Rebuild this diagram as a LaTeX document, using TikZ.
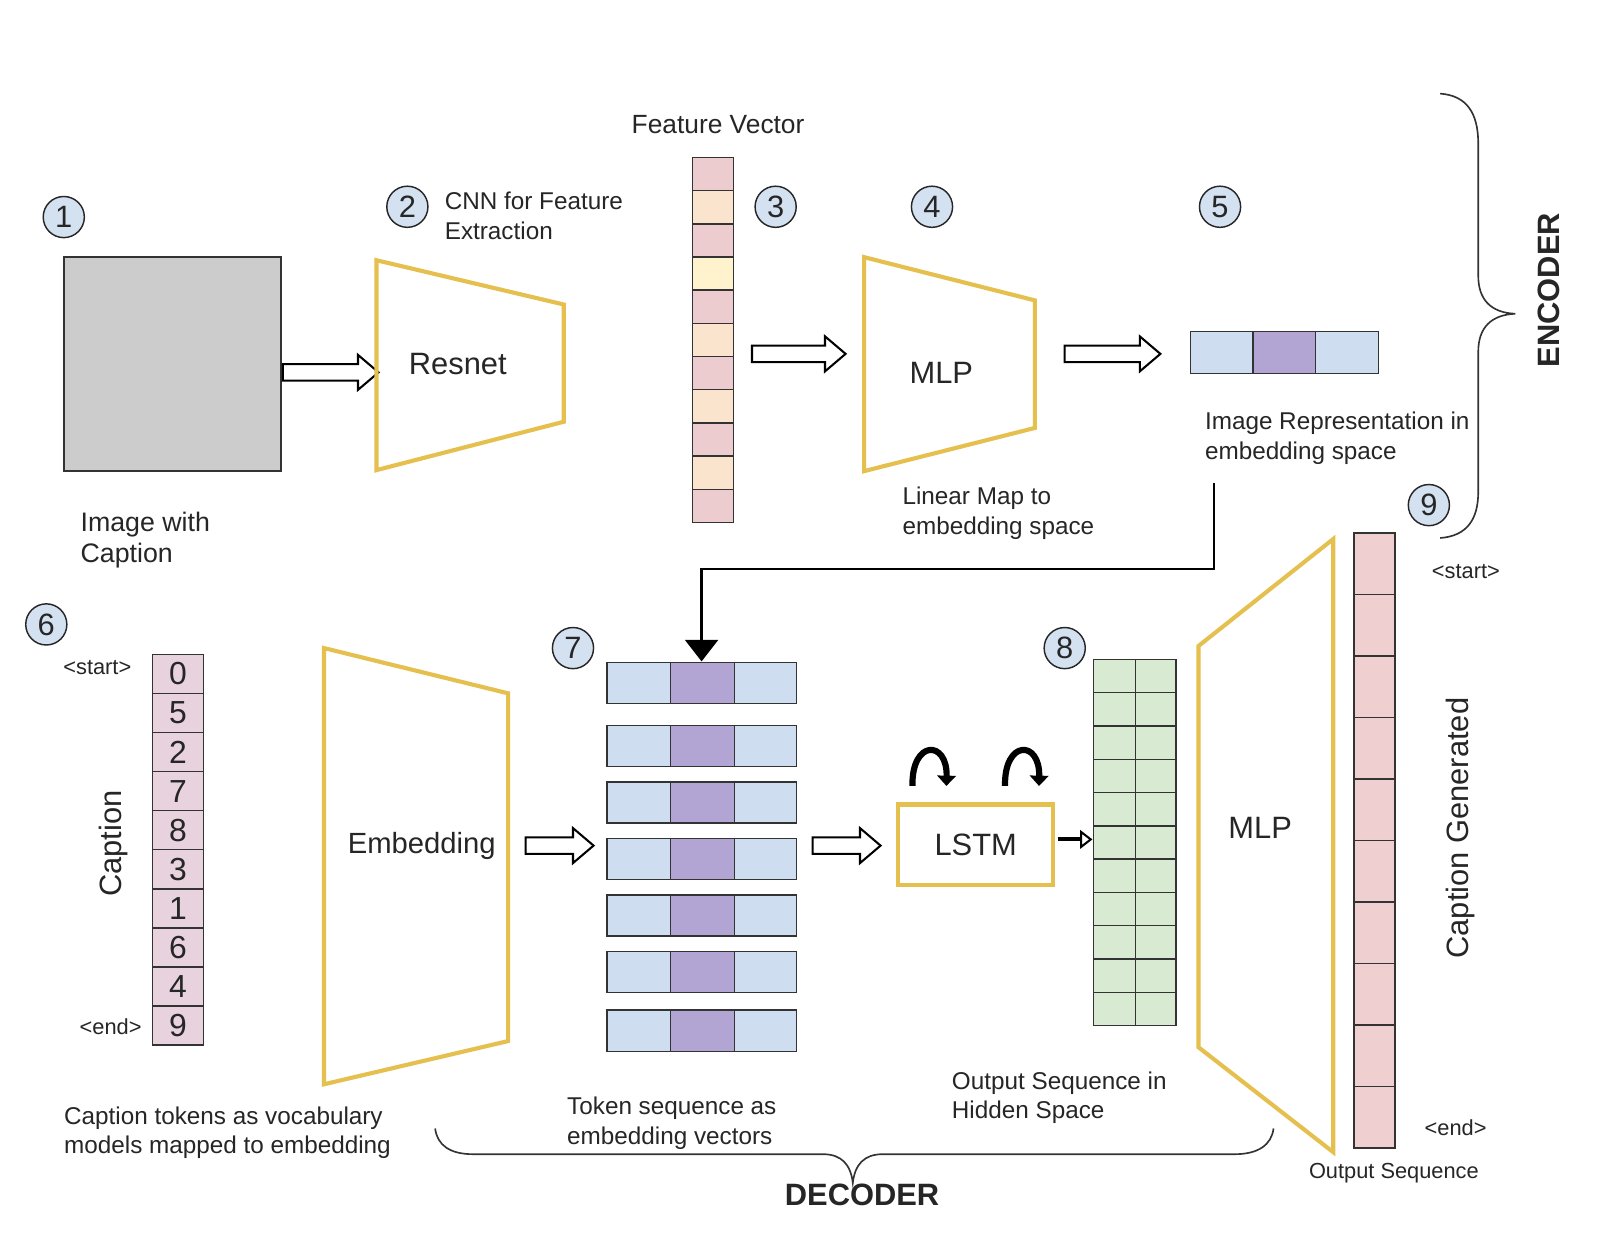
\documentclass[tikz,border=0pt]{standalone}
\usepackage{fontspec}
\setmainfont{Liberation Sans}
\usetikzlibrary{arrows.meta,calc}
\definecolor{gold}{RGB}{230,192,78}
\definecolor{imggray}{RGB}{204,204,204}
\definecolor{circblue}{RGB}{212,225,241}
\definecolor{fpink}{RGB}{236,204,206}
\definecolor{fpeach}{RGB}{250,228,206}
\definecolor{fyel}{RGB}{255,243,206}
\definecolor{cappink}{RGB}{232,210,222}
\definecolor{lblue}{RGB}{207,221,240}
\definecolor{lpurple}{RGB}{178,165,212}
\definecolor{lgreen}{RGB}{217,234,211}
\definecolor{opink}{RGB}{240,207,209}
\newcommand\fsBig{\fontsize{15}{18}\selectfont}
\newcommand\fsEmb{\fontsize{14.2}{17}\selectfont}
\newcommand\fsTitle{\fontsize{12.8}{15}\selectfont}
\newcommand\fsMid{\fontsize{11.8}{14.3}\selectfont}
\newcommand\fsImg{\fontsize{13}{15.5}\selectfont}
\newcommand\fsSmall{\fontsize{10.6}{12.7}\selectfont}
\newcommand\fsBoldLbl{\fontsize{15}{18}\selectfont\bfseries}
\tikzset{
  yel/.style={draw=gold, line width=2pt, line join=miter},
  cell/.style={draw=black!80, line width=0.7pt},
  numc/.style={circle, draw=black!85, fill=circblue, line width=0.7pt, minimum size=20pt, inner sep=0pt, font=\fsBig},
  lbl/.style={font=\fsMid, align=left, anchor=west, inner sep=0pt},
  capcell/.style={cell, fill=cappink, minimum width=25pt, minimum height=19pt, inner sep=0pt, font=\fontsize{15.5}{18}\selectfont},
  outcell/.style={cell, fill=opink, minimum width=20pt, minimum height=29.9pt, inner sep=0pt},
  brace/.style={draw=black!80, line width=0.8pt},
  loopar/.style={line width=3pt, -{Triangle[length=5pt,width=9pt]}},
  pics/blockarrow/.style={code={
    \draw[line width=1pt, fill=white, line join=miter]
      (0,-8) -- ({#1-20},-8) -- ({#1-20},-17) -- (#1,0) -- ({#1-20},17) -- ({#1-20},8) -- (0,8) -- cycle;}}
}
\begin{document}
\begin{tikzpicture}[x=0.5pt,y=-0.5pt, every node/.append style={text=black!85}]
\useasboundingbox (0,0) rectangle (1568,1203);
\fill[white] (0,0) rectangle (1568,1203);

% ---------------- ENCODER ----------------
\node[numc] (n1) at (62,211) {1};
\node[draw=black!80, fill=imggray, line width=0.8pt, minimum width=105.5pt, minimum height=104pt, inner sep=0pt] (img) at (167.5,354) {};
\node[font=\fsImg, align=left, anchor=west, inner sep=0pt] (imglbl) at (78,525) {Image with\\Caption};

\pic at (275,362) {blockarrow=93};

\node[numc] (n2) at (396,201) {2};
\node[lbl] (cnnlbl) at (432,210) {CNN for Feature\\Extraction};
\draw[yel] (366,253) -- (548,296) -- (548,410) -- (366,457) -- cycle;
\node[font=\fsBig] (resnet) at (445,354) {Resnet};

\node[font=\fsTitle] (fvlbl) at (698,121) {Feature Vector};
\foreach \c [count=\i from 0] in {fpink,fpeach,fpink,fyel,fpink,fpeach,fpink,fpeach,fpink,fpeach,fpink}
  \filldraw[cell, fill=\c] (673,{153+\i*32.27}) rectangle (713,{153+(\i+1)*32.27});
\node[numc] (n3) at (754,201) {3};

\pic at (731,344) {blockarrow=91};

\node[numc] (n4) at (906,201) {4};
\draw[yel] (840,250) -- (1006,292) -- (1006,416) -- (840,458) -- cycle;
\node[font=\fsBig] (mlp1) at (915,362) {MLP};
\node[lbl] (linlbl) at (877,499) {Linear Map to\\embedding space};

\pic at (1035,344) {blockarrow=93};

\node[numc] (n5) at (1186,201) {5};
\filldraw[cell, fill=lblue] (1157,322) rectangle (1218,363);
\filldraw[cell, fill=lpurple] (1218,322) rectangle (1279,363);
\filldraw[cell, fill=lblue] (1279,322) rectangle (1340,363);
\node[lbl] (replbl) at (1171,426) {Image Representation in\\embedding space};

% encoder brace
\draw[brace] (1400,91) .. controls (1426,93) and (1437,110) .. (1437,140) -- (1437,268)
  .. controls (1437,292) and (1450,304) .. (1473,305)
  .. controls (1450,306) and (1437,318) .. (1437,342) -- (1437,478)
  .. controls (1437,505) and (1426,521) .. (1400,523);
\node[font=\fsBoldLbl, rotate=90] (enc) at (1506,282) {ENCODER};

% connector from image representation to token sequence
\coordinate (repout) at (1180,470);
\coordinate (bend) at (1180,553);
\coordinate (tokin) at (682,643);
\draw[line width=1.3pt, -{Triangle[length=10.5pt,width=16pt]}] (repout) -- (bend) -| (tokin);

% ---------------- DECODER ----------------
\node[numc] (n6) at (45,607) {6};
\node[font=\fsSmall, anchor=east, inner sep=0pt] (capstart) at (128,649) {<start>};
\node[font=\fsSmall, anchor=east, inner sep=0pt] (capend) at (138,998) {<end>};
\foreach \d [count=\i from 0] in {0,5,2,7,8,3,1,6,4,9}
  \node[capcell] (cap\i) at (173,{655+\i*38}) {\d};
\node[font=\fsBig, rotate=90] (caplbl) at (110,820) {Caption};

\draw[yel] (315,630) -- (494,674) -- (494,1012) -- (315,1054) -- cycle;
\node[font=\fsEmb] (emb) at (410,822) {Embedding};
\node[lbl] (toklbl) at (62,1101) {Caption tokens as vocabulary\\models mapped to embedding};

\pic at (511,822) {blockarrow=66};

\node[numc] (n7) at (557,630) {7};
\foreach \t in {644,705,760,815,870,925,982} {
  \filldraw[cell, fill=lblue] (590,\t) rectangle (652,{\t+40});
  \filldraw[cell, fill=lpurple] (652,\t) rectangle (714,{\t+40});
  \filldraw[cell, fill=lblue] (714,\t) rectangle (774,{\t+40});
}
\node[lbl] (seqlbl) at (551,1092) {Token sequence as\\embedding vectors};

\pic at (790,822) {blockarrow=66};

\node[draw=gold, line width=2pt, minimum width=75.5pt, minimum height=39pt, inner sep=0pt, font=\fsBig] (lstm) at (948.5,821) {\raisebox{-1pt}{LSTM}};
\draw[loopar] (887,764) .. controls (886,719) and (921,719) .. (920,764);
\draw[loopar] (977,764) .. controls (976,719) and (1011,719) .. (1010,764);

\coordinate (gridin) at (1062,816);
\draw[line width=2pt, -{Triangle[open, length=6pt, width=9pt, line width=1pt]}] ($(lstm.east)+(2,-5)$) -- (gridin);

\node[numc] (n8) at (1035,630) {8};
\foreach \i in {0,...,10} {
  \filldraw[cell, fill=lgreen] (1063,{641+\i*32.36}) rectangle (1104,{641+(\i+1)*32.36});
  \filldraw[cell, fill=lgreen] (1104,{641+\i*32.36}) rectangle (1143,{641+(\i+1)*32.36});
}
\node[lbl] (hidlbl) at (925,1067) {Output Sequence in\\Hidden Space};

\draw[yel] (1165,628) -- (1296,524) -- (1296,1120) -- (1165,1018) -- cycle;
\node[font=\fsBig] (mlp2) at (1225,805) {MLP};

\foreach \i in {0,...,9}
  \node[outcell] (out\i) at (1336,{518+29.9+\i*59.8}) {};
\node[numc] (n9) at (1389,491) {9};
\node[font=\fsSmall] (ostart) at (1425,556) {<start>};
\node[font=\fsSmall] (oend) at (1415,1096) {<end>};
\node[font=\fsBig, rotate=90] (cgen) at (1420,805) {Caption Generated};
\node[font=\fsSmall] (oseq) at (1355,1140) {Output Sequence};

% decoder brace
\draw[brace] (423,1097) .. controls (425,1113) and (437,1122) .. (460,1122) -- (800,1122)
  .. controls (818,1122) and (827,1132) .. (829,1150)
  .. controls (831,1132) and (840,1122) .. (858,1122) -- (1200,1122)
  .. controls (1223,1122) and (1236,1113) .. (1238,1097);
\node[font=\fsBoldLbl] (dec) at (838,1162) {DECODER};
\end{tikzpicture}
\end{document}
